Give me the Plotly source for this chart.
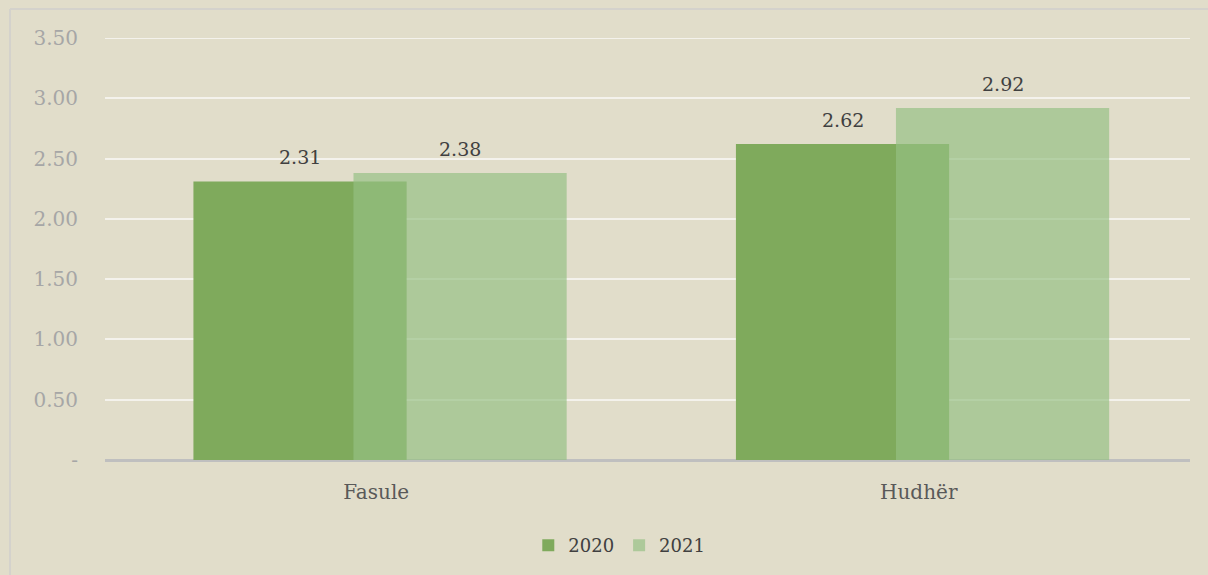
import plotly.graph_objects as go

categories = ["Fasule", "Hudhër"]
series_names = ["2020", "2021"]
values_2020 = [2.31, 2.62]
values_2021 = [2.38, 2.92]
tick_vals = [0, 0.5, 1.0, 1.5, 2.0, 2.5, 3.0, 3.5]
tick_text = ["-", "0.50", "1.00", "1.50", "2.00", "2.50", "3.00", "3.50"]

FONT = "DejaVu Serif"
BG = "#e1ddca"
BAR_W = 0.393
OFF_2020 = -0.337
OFF_2021 = -0.042

fig = go.Figure()
fig.add_trace(go.Bar(
    x=categories, y=values_2020, name=series_names[0],
    marker=dict(color="#7faa5c", line=dict(width=0)),
    width=BAR_W, offset=OFF_2020,
))
fig.add_trace(go.Bar(
    x=categories, y=values_2021, name=series_names[1],
    marker=dict(color="rgba(149,191,131,0.68)", line=dict(width=0)),
    width=BAR_W, offset=OFF_2021,
))

annotations = []
for vals, off in ((values_2020, OFF_2020), (values_2021, OFF_2021)):
    for i, v in enumerate(vals):
        annotations.append(dict(
            x=i + off + BAR_W / 2, y=v, xref="x", yref="y",
            text=f"{v:.2f}", showarrow=False, yanchor="bottom", yshift=11,
            font=dict(family=FONT, size=19, color="#404040"),
        ))

L, R, T, B = 105, 18, 38, 114
W, H = 1208, 575
pw, ph = W - L - R, H - T - B

shapes = [
    # top gridline at the range maximum
    dict(type="line", xref="paper", yref="y", x0=0, x1=1,
         y0=tick_vals[-1], y1=tick_vals[-1],
         line=dict(color="#f4f2ec", width=2), layer="below"),
    # chart-area border (left and top edges)
    dict(type="line", xref="paper", yref="paper",
         x0=(10 - L) / pw, x1=(10 - L) / pw, y0=-(B + 20) / ph, y1=1 + (T - 9) / ph,
         line=dict(color="#d4d2cc", width=2), layer="below"),
    dict(type="line", xref="paper", yref="paper",
         x0=(10 - L) / pw, x1=(W + 20 - L) / pw, y0=1 + (T - 9) / ph, y1=1 + (T - 9) / ph,
         line=dict(color="#d4d2cc", width=2), layer="below"),
]

fig.update_layout(
    width=W, height=H,
    barmode="overlay",
    paper_bgcolor=BG, plot_bgcolor=BG,
    margin=dict(l=L, r=R, t=T, b=B, pad=0),
    font=dict(family=FONT, size=19, color="#595959"),
    showlegend=True,
    legend=dict(orientation="h", x=0.474, xanchor="center", y=-0.20, yanchor="middle",
                font=dict(family=FONT, size=18, color="#404040"),
                itemwidth=30, traceorder="normal", bgcolor="rgba(0,0,0,0)"),
    xaxis=dict(showgrid=False, showline=False, ticks="", zeroline=False,
               ticklabelstandoff=18,
               tickfont=dict(family=FONT, size=20, color="#595959")),
    yaxis=dict(range=[0, 3.5], tickvals=tick_vals, ticktext=tick_text,
               showgrid=True, gridcolor="#f4f2ec", gridwidth=2,
               zeroline=True, zerolinecolor="#bfbfbf", zerolinewidth=3,
               showline=False, ticks="", ticklabelstandoff=26,
               tickfont=dict(family=FONT, size=20, color="#a6a6a6")),
    annotations=annotations,
    shapes=shapes,
)

fig.write_html("out.html", config={"displayModeBar": False},
               post_script="document.body.style.margin='0';document.body.style.overflow='hidden';")
